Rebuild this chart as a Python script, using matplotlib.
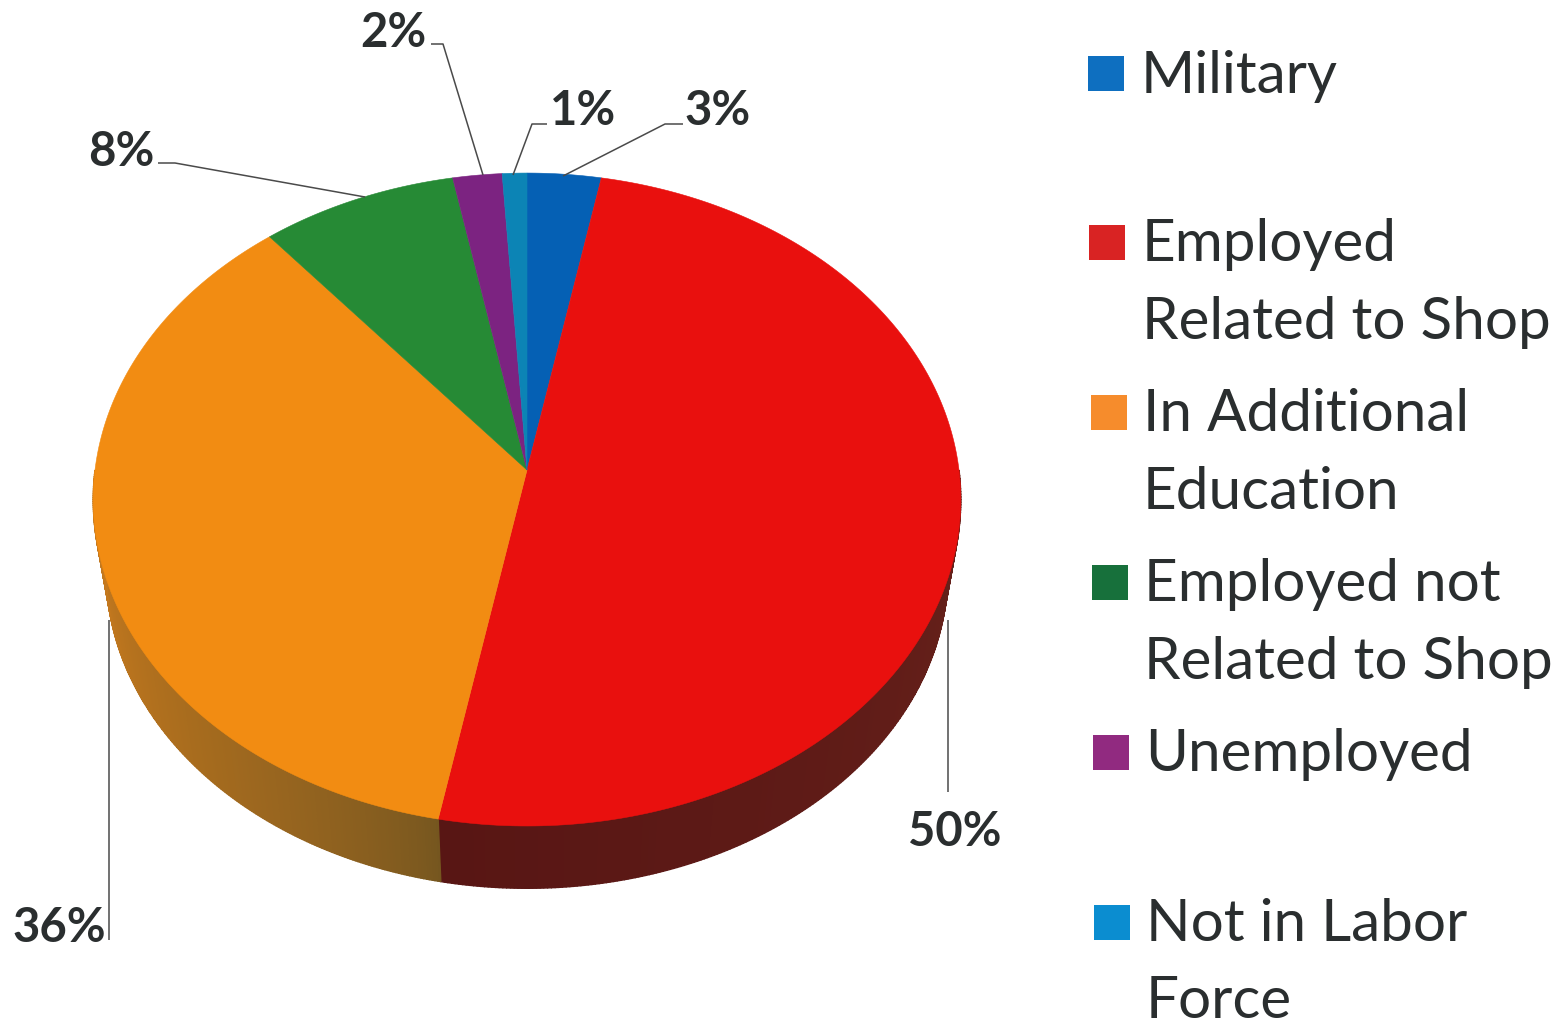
import numpy as np
import matplotlib
matplotlib.use("Agg")
import matplotlib.pyplot as plt
from matplotlib.colors import to_rgb
from matplotlib.patches import Polygon, Rectangle

# outcome shares, clockwise from the top of the pie
categories = ["Military", "Employed Related to Shop", "In Additional Education",
              "Employed not Related to Shop", "Unemployed", "Not in Labor Force"]
shares = [3, 50, 36, 8, 2, 1]
share_labels = ["3%", "50%", "36%", "8%", "2%", "1%"]
slice_colors = ["#0560b4", "#e9100e", "#f28c12", "#268a35", "#7c2381", "#0c84b5"]
swatch_colors = ["#0e6fc0", "#d92323", "#f68c2c", "#17703b", "#912a80", "#0b8dd0"]
legend_lines = [["Military"], ["Employed", "Related to Shop"], ["In Additional", "Education"],
                ["Employed not", "Related to Shop"], ["Unemployed"], ["Not in Labor", "Force"]]

# legend layout: swatch left, swatch bottom, text left, baselines
legend_x = [1088, 1089, 1091, 1092, 1093, 1094]
legend_bottom = [91, 260, 430, 600, 770, 940]
text_x = [1141, 1142, 1143, 1144, 1145, 1146]
text_y = [[93], [261, 339], [431, 509], [601, 679], [771], [941, 1018]]

# label text position (right end, baseline) and leader line
label_pos = [(751, 125), (1001, 846), (106, 942), (154, 166), (427, 47), (616, 125)]
leaders = [[(563, 176), (665, 124), (683, 124)],
           [(948, 620), (948, 792)],
           [(109, 620), (109, 940)],
           [(365, 197), (175, 163), (158, 163)],
           [(483, 175), (443, 44), (431, 44)],
           [(513, 175), (532, 124), (547, 124)]]

CX, CY = 527, 470
K, A, B = 0.0904, 323.8, 432.0
DEPTH, SHRINK = 73, 0.97

TEXT = "#2a2e2f"


def project(frac, lower=False):
    # perspective view of the disc, frac runs clockwise from the top
    t = 2 * np.pi * np.asarray(frac)
    x, y = np.sin(t), np.cos(t)
    w = 1 + K * y
    sx, sy = B * x / w, -A * y / w
    if lower:
        return CX + SHRINK * sx, CY + SHRINK * sy + DEPTH
    return CX + sx, CY + sy


def mix(c1, c2, t):
    a, b = np.array(to_rgb(c1)), np.array(to_rgb(c2))
    return tuple(a + (b - a) * t)


fig = plt.figure(figsize=(15.64, 10.23), dpi=100, facecolor="white")
ax = fig.add_axes([0, 0, 1, 1])
ax.set_xlim(0, 1564)
ax.set_ylim(1023, 0)
ax.axis("off")

edges = np.concatenate([[0], np.cumsum(shares)]) / sum(shares)

# side wall, only the front half of the disc shows it
wall_shades = {1: ("#6a241c", "#581614"), 2: ("#75561f", "#cc7c1e")}
for i, (c1, c2) in wall_shades.items():
    lo, hi = max(edges[i], 0.25), min(edges[i + 1], 0.75)
    steps = np.linspace(lo, hi, 220)
    for j in range(len(steps) - 1):
        f = steps[j:j + 2]
        x1, y1 = project(f)
        x2, y2 = project(f, lower=True)
        col = mix(c1, c2, (j / 218) ** 0.7)
        ax.add_patch(Polygon(np.c_[np.r_[x1, x2[::-1]], np.r_[y1, y2[::-1]]],
                             facecolor=col, edgecolor=col, lw=1.0, zorder=2))

# top face
for i, col in enumerate(slice_colors):
    f = np.linspace(edges[i], edges[i + 1], 200)
    x, y = project(f)
    ax.add_patch(Polygon(np.c_[np.r_[CX, x], np.r_[CY, y]], facecolor=col,
                         edgecolor=col, lw=0.4, zorder=3))

for pts, lab, pos in zip(leaders, share_labels, label_pos):
    xs, ys = zip(*pts)
    ax.plot(xs, ys, color="#4a4a4a", lw=1.1, zorder=4, solid_capstyle="butt")
    ax.text(pos[0], pos[1], lab, ha="right", va="baseline", family="Lato",
            weight="bold", fontsize=34, color=TEXT, zorder=5)

for i, lines in enumerate(legend_lines):
    ax.add_patch(Rectangle((legend_x[i], legend_bottom[i] - 35), 36, 35,
                           facecolor=swatch_colors[i], edgecolor="none"))
    for line, by in zip(lines, text_y[i]):
        ax.text(text_x[i], by, line, ha="left", va="baseline", family="Lato",
                fontsize=42, color=TEXT)

fig.savefig("out.png", dpi=100)
